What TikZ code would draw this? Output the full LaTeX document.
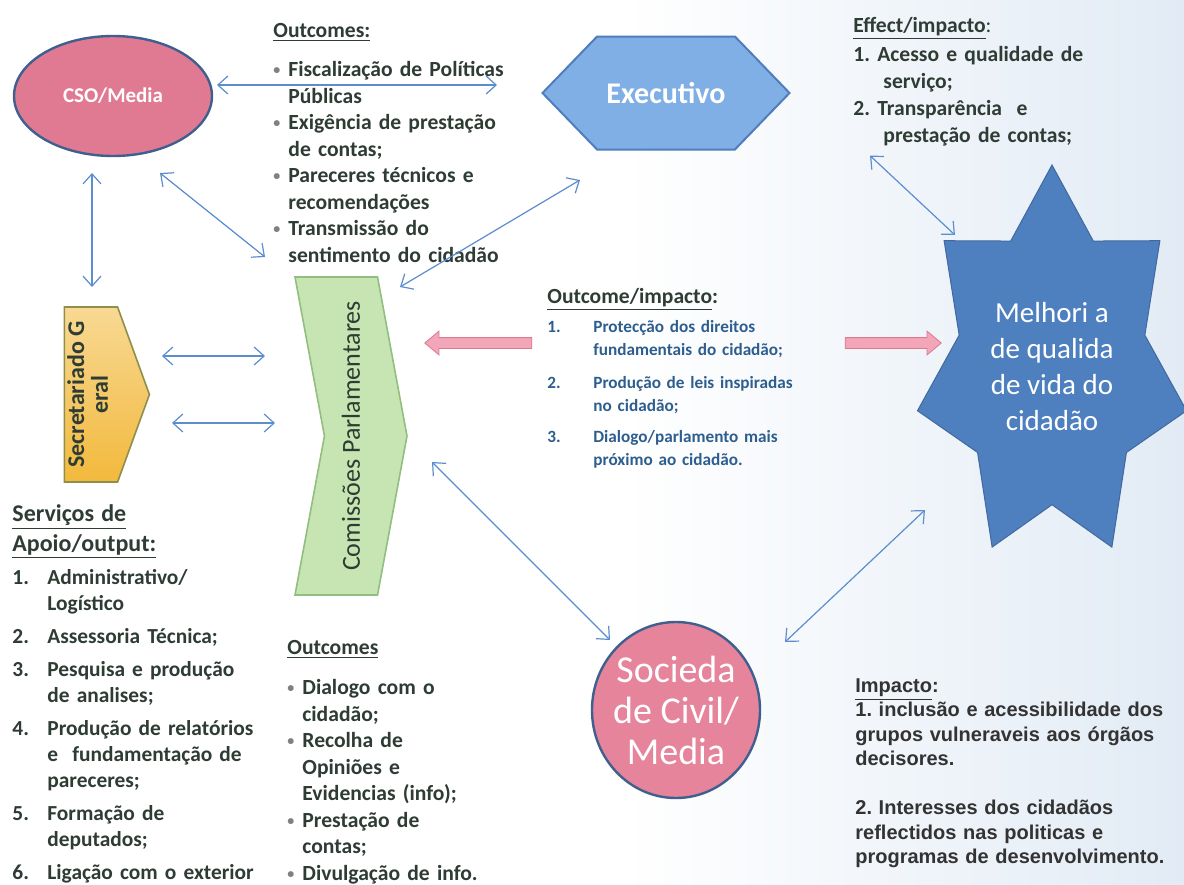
\documentclass[tikz,border=0pt]{standalone}
\usepackage{fontspec}
\usepackage{graphicx}
\setmainfont{Carlito}
\newfontfamily\arialfont{Liberation Sans}
\usetikzlibrary{shapes.symbols,shapes.arrows,shapes.geometric,arrows.meta,calc}
\definecolor{linkblue}{HTML}{5B8DCF}
\definecolor{csopink}{HTML}{E07A93}
\definecolor{socpink}{HTML}{E6849C}
\definecolor{rimblue}{HTML}{3F5F8E}
\definecolor{execblue}{HTML}{80AFE6}
\definecolor{execrim}{HTML}{4F7DBD}
\definecolor{starblue}{HTML}{4E7FBE}
\definecolor{starrim}{HTML}{41699F}
\definecolor{secyellow}{HTML}{F2B93C}
\definecolor{secrim}{HTML}{8F8F4C}
\definecolor{comgreen}{HTML}{C6E5B2}
\definecolor{comrim}{HTML}{92BE80}
\definecolor{arrowpink}{HTML}{F2A6B7}
\definecolor{arrowrim}{HTML}{DC7890}
\definecolor{txtdark}{HTML}{2E3C34}
\definecolor{txtblue}{HTML}{2D5E8E}
\definecolor{impgray}{HTML}{333333}
\definecolor{bgblue}{HTML}{E2EBF5}
\newcommand{\bul}{\makebox[7.5pt][l]{\raisebox{1pt}{\color{gray}\scriptsize\textbullet}}}
\newcommand{\num}[1]{\makebox[17.5pt][l]{#1}}
\frenchspacing
\begin{document}
\begin{tikzpicture}[x=0.5pt, y=-0.5pt,
  link/.style={draw=linkblue, line width=0.6pt, {Straight Barb[length=5pt,width=9pt]}-{Straight Barb[length=5pt,width=9pt]}},
  pinkarrow/.style={single arrow, draw=arrowrim, fill=arrowpink, minimum width=11.5pt, single arrow head extend=3.25pt, single arrow tip angle=80, inner xsep=0pt, inner ysep=2.5pt},
  txt/.style={anchor=north west, inner sep=0pt, align=left, text=txtdark},
  listfont/.style={font=\bfseries\fontsize{10.8}{13.25}\selectfont}]
  \useasboundingbox (0,0) rectangle (1184,884);
  \fill[white] (0,0) rectangle (1184,884);
  \shade[left color=white, right color=bgblue] (620,0) rectangle (1184,884);
  \node[ellipse, draw=rimblue, line width=1.2pt, fill=csopink, minimum width=99pt, minimum height=60pt, text=white, font=\bfseries\fontsize{10.5}{12}\selectfont] (cso) at (113,96) {CSO/Media};
  \node[signal, signal to=east and west, signal pointer angle=92, draw=execrim, line width=1pt, fill=execblue, minimum width=123.5pt, minimum height=56.5pt, text=white, font=\bfseries\fontsize{15}{18}\selectfont] (exec) at (666,93) {Executivo};
  \filldraw[fill=starblue, draw=starrim, line width=0.5pt] (1052,165)
    \foreach \k [evaluate=\k as \r using {isodd(\k) ? 0.69 : 1}] in {1,...,13} { -- ({1052+138*\r*cos(90-\k*360/14)}, {366-201*\r*sin(90-\k*360/14)}) } -- cycle;
  \node[text=white, align=center, font=\fontsize{14.5}{18}\selectfont] (star) at (1052,367) {Melhori a\\de qualida\\de vida do\\cidadão};
  \node[ellipse, draw=rimblue, line width=1.2pt, fill=socpink, minimum width=84pt, minimum height=88pt, inner xsep=-4pt, inner ysep=0pt, text=white, align=center, font=\fontsize{19}{20.5}\selectfont] (soc) at (676,710) {Socieda\\de Civil/\\Media};
  \node[signal, signal to=east, signal pointer angle=140, draw=secrim, line width=0.8pt, top color=secyellow!55!white, bottom color=secyellow, minimum width=42.5pt, minimum height=87.5pt, inner sep=0pt, text=txtdark, font=\bfseries\fontsize{12}{11.5}\selectfont] (secg) at (91,394.5) {\rotatebox{90}{\begin{tabular}{@{}c@{}}Secretariado G\\eral\end{tabular}}};
  \node[signal, signal from=west, signal to=east, signal pointer angle=159, draw=comrim, line width=0.8pt, fill=comgreen, minimum width=56pt, minimum height=159pt, inner sep=0pt, text=txtdark, font=\fontsize{13}{15}\selectfont] (comis) at (351,436) {\rotatebox{90}{Comissões Parlamentares}};
  \node[pinkarrow, minimum height=53.5pt, shape border rotate=180] (pl) at (481.5,343) {};
  \node[pinkarrow, minimum height=48pt] (pr) at (890,343) {};
  \node[txt, listfont, text width=130pt] (outtop) at (273,23) {\underline{Outcomes:}\\[6.25pt]
    \bul Fiscalização de Políticas\\ \hspace*{7.5pt}Públicas\\
    \bul Exigência de prestação\\ \hspace*{7.5pt}de contas;\\
    \bul Pareceres técnicos e\\ \hspace*{7.5pt}recomendações\\
    \bul Transmissão do\\ \hspace*{7.5pt}sentimento do cidadão};
  \node[txt, font=\bfseries\fontsize{10.8}{13.5}\selectfont, text width=130pt] (effect) at (853,17) {\underline{Effect/impacto}{\mdseries:}\\[1pt]
    1. Acesso e qualidade de\\ \hspace*{15pt}serviço;\\
    2. Transparência\ \ e\\ \hspace*{15pt}prestação de contas;};
  \node[txt, text=txtblue, font=\bfseries\fontsize{8.6}{11.5}\selectfont, text width=140pt] (outimp) at (547,288) {{\color{txtdark}\fontsize{10.8}{11.5}\selectfont\underline{Outcome/impacto}:}\\[3pt]
    \makebox[23pt][l]{1.}Protecção dos direitos\\ \hspace*{23pt}fundamentais do cidadão;\\[5pt]
    \makebox[23pt][l]{2.}Produção de leis inspiradas\\ \hspace*{23pt}no cidadão;\\[4pt]
    \makebox[23pt][l]{3.}Dialogo/parlamento mais\\ \hspace*{23pt}próximo ao cidadão.};
  \node[txt, font=\bfseries\fontsize{10.7}{13}\selectfont, text width=135pt] (servicos) at (12,504) {{\fontsize{12}{13}\selectfont\underline{Serviços de}}\\[2pt]
    {\fontsize{12}{13}\selectfont\underline{Apoio/output:}}\\[3.5pt]
    \num{1.}Administrativo/\\ \hspace*{17.5pt}Logístico\\[3.5pt]
    \num{2.}Assessoria Técnica;\\[3.5pt]
    \num{3.}Pesquisa e produção\\ \hspace*{17.5pt}de analises;\\[3.5pt]
    \num{4.}Produção de relatórios\\ \hspace*{17.5pt}e\ \ fundamentação de\\ \hspace*{17.5pt}pareceres;\\[3.5pt]
    \num{5.}Formação de\\ \hspace*{17.5pt}deputados;\\[3.5pt]
    \num{6.}Ligação com o exterior};
  \node[txt, listfont, text width=110pt] (outbot) at (287,640) {\underline{Outcomes}\\[6.75pt]
    \bul Dialogo com o\\ \hspace*{7.5pt}cidadão;\\
    \bul Recolha de\\ \hspace*{7.5pt}Opiniões e\\ \hspace*{7.5pt}Evidencias (info);\\
    \bul Prestação de\\ \hspace*{7.5pt}contas;\\
    \bul Divulgação de info.};
  \node[txt, text=impgray, font=\arialfont\bfseries\fontsize{10}{12.25}\selectfont, text width=165pt] (impacto) at (855,678) {\underline{Impacto}:\\
    1. inclusão e acessibilidade dos\\ grupos vulneraveis aos órgãos\\ decisores.\\[12.25pt]
    2. Interesses dos cidadãos\\ reflectidos nas politicas e\\ programas de desenvolvimento.};
  \draw[link] ([shift={(104,-11)}]cso.center) -- ([shift={(-169,-8)}]exec.center);
  \draw[link] ([shift={(-21,77)}]cso.center) -- ([shift={(1,-107.5)}]secg.center);
  \draw[link] ([shift={(47,77)}]cso.center) -- ([shift={(-86,-179)}]comis.center);
  \draw[link] ([shift={(49,-149)}]comis.center) -- ([shift={(-86,87)}]exec.center);
  \draw[link] ([shift={(71,-38.5)}]secg.center) -- ([shift={(-86,-80)}]comis.center);
  \draw[link] ([shift={(81,28.5)}]secg.center) -- ([shift={(-76,-13)}]comis.center);
  \draw[link] ([shift={(81,26)}]comis.center) -- ([shift={(-66,-70)}]soc.center);
  \draw[link] ([shift={(109,-68)}]soc.center) -- ([shift={(-127,143)}]star.center);
  \draw[link] ([shift={(17,9)}]effect.south west) -- ([shift={(-97,-132)}]star.center);
\end{tikzpicture}
\end{document}
